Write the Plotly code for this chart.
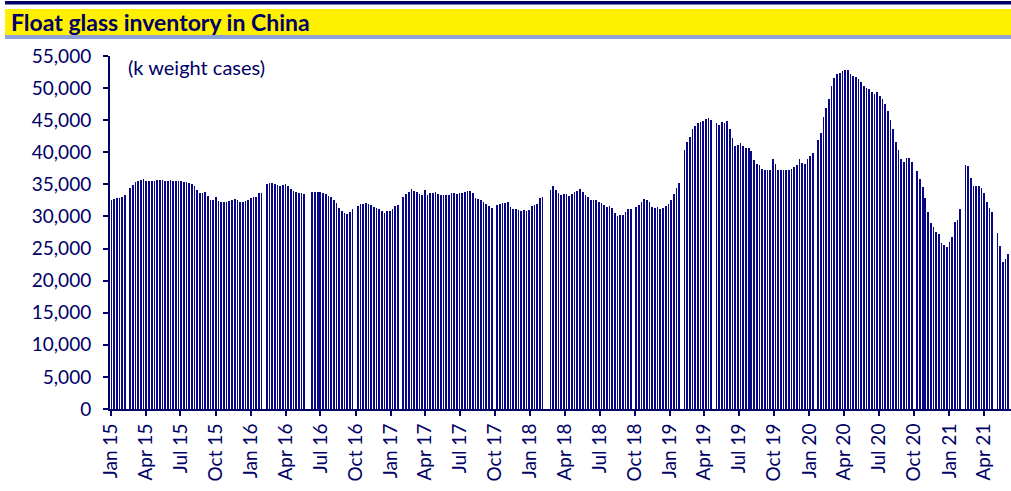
import pandas as pd
import plotly.graph_objects as go

# Weekly float glass inventory (k weight cases); None = no data that week
inventory = [
    32600, 32700, 32870, 32900, 33030, 33340, None, 34380, 34900, 35300,
    35570, 35730, 35780, 35570, 35570, 35570, 35570, 35620, 35680, 35620,
    35570, 35570, 35620, 35570, 35570, 35570, 35460, 35370, 35370, 35200,
    35050, 34690, 34120, 33650, 33700, 33860, 33240, 32560, 32560, 32980,
    32460, 32250, 32200, 32250, 32400, 32600, 32660, 32600, 32250, 32300,
    32400, 32560, 32820, 33080, 33080, 33650, 33650, None, 35000, 35260,
    35260, 35100, 34900, 34800, 34900, 35000, 34700, 34320, 33960, 33810,
    33650, 33600, 33500, None, None, 33810, 33810, 33810, 33760, 33600,
    33440, 33180, 32980, 32560, 32100, 31360, 30850, 30590, 30380, 30690,
    31160, None, 31630, 31940, 31940, 32100, 32000, 31790, 31420, 31320,
    31110, 30790, 30540, 30790, 30790, 31160, 31630, 31730, None, 32980,
    33500, 33760, 34230, 34020, 33760, 33500, 33390, 34070, 33290, 33600,
    33650, 33810, 33550, 33290, 33390, 33390, 33390, 33600, 33600, 33500,
    33600, 33650, 33810, 33910, 33910, 33700, 32930, 32750, 32510, 32250,
    31890, 31580, 31370, None, 31730, 31890, 32040, 32150, 32250, 31470,
    31110, 31110, 31060, 30790, 30950, 30900, 30950, 31630, 31730, 31940,
    32820, 32980, None, None, 34070, 34740, 34070, 33650, 33390, 33500,
    33440, 33240, 33500, 33760, 33960, 34230, 33860, 33290, 32980, 32560,
    32510, 32560, 32250, 32040, 31790, 31470, 31630, 31320, 30540, 30070,
    30230, 30230, 30690, 31110, 31160, None, 31520, 31790, 32300, 32720,
    32610, 32200, 31470, 31370, 31500, 31230, 31290, 31630, 31940, 32560,
    33440, 34480, 35160, None, 40350, 41650, 42430, 43620, 44140, 44610,
    44710, 44820, 45230, 45280, 45020, None, 44500, 44250, 44660, 44610,
    44820, 43570, 42170, 40970, 41130, 41390, 40970, 40710, 40610, 40190,
    38790, 38170, 37960, 37440, 37230, 37180, 37180, 38950, 38170, 37180,
    37230, 37230, 37230, 37230, 37440, 37750, 38010, 38900, 38330, 38170,
    39010, 39380, 39840, None, 41910, 43050, 45540, 46840, 48240, 50270,
    51510, 52190, 52350, 52690, 52820, 52870, 52190, 51930, 51670, 51360,
    50890, 50320, 50010, 49810, 49390, 49080, 49340, 48770, 48300, 47520,
    46480, 45020, 43570, 41650, 40350, 38950, 38480, 39110, 39160, 38480,
    None, 37080, 35880, 34590, 32930, 30750, 28940, 28360, 27630, 27270,
    25870, 25550, 25190, 26020, 26800, 29130, 29450, 31110, None, 38060,
    37910, 35940, 34740, 34740, 34690, 34430, 33600, 32300, 31320, 30750,
    None, 27420, 25400, 22900, 23320, 24100,
]
weeks = pd.date_range("2015-01-02", periods=len(inventory), freq="7D")

tick_dates = pd.date_range("2015-01-01", "2021-04-01", freq="QS")
tick_labels = [d.strftime("%b %y") for d in tick_dates]

title_text = "Float glass inventory in China"
unit_text = "(k weight cases)"

NAVY = "#000066"
W, H = 1011, 491
L, R, T, B = 110, 1011, 56, 409  # plot area in pixels


def px(x):
    return (x - L) / (R - L)


def py(y):
    return (B - y) / (B - T)


fig = go.Figure()
fig.add_trace(go.Bar(
    x=weeks, y=inventory,
    width=4.4 * 86400000,
    marker=dict(color="rgba(0,0,128,0.97)", line=dict(width=0)),
))

fig.update_layout(
    width=W, height=H,
    margin=dict(l=L, r=W - R, t=T, b=H - B, autoexpand=False),
    paper_bgcolor="white", plot_bgcolor="white",
    showlegend=False,
    bargap=0,
    font=dict(family="Lato", color=NAVY, size=19),
    xaxis=dict(
        type="date",
        range=["2014-12-29", "2021-06-11"],
        tickmode="array", tickvals=tick_dates, ticktext=tick_labels,
        tickangle=-90,
        ticks="outside", ticklen=5, tickwidth=2, tickcolor=NAVY,
        showline=True, linecolor=NAVY, linewidth=2,
        showgrid=False, zeroline=False,
        tickfont=dict(size=19, color=NAVY),
    ),
    yaxis=dict(
        range=[0, 55000],
        tickmode="linear", tick0=0, dtick=5000,
        tickformat=",",
        ticks="outside", ticklen=5, tickwidth=2, tickcolor=NAVY,
        ticklabelstandoff=8,
        showline=True, linecolor=NAVY, linewidth=2,
        showgrid=False, zeroline=False,
        tickfont=dict(size=19, color=NAVY),
    ),
    shapes=[
        dict(type="rect", xref="paper", yref="paper", x0=px(5), x1=px(1011),
             y0=py(4.5), y1=py(1), fillcolor=NAVY, line=dict(width=0)),
        dict(type="rect", xref="paper", yref="paper", x0=px(5), x1=px(1011),
             y0=py(35), y1=py(9), fillcolor="#FFF000", line=dict(width=0)),
        dict(type="rect", xref="paper", yref="paper", x0=px(5), x1=px(1011),
             y0=py(39), y1=py(35), fillcolor="#8DA1D6", line=dict(width=0)),
    ],
    annotations=[
        dict(text="<b>" + title_text + "</b>", xref="paper", yref="paper",
             x=px(9), y=py(22), xanchor="left", yanchor="middle",
             showarrow=False, font=dict(size=23, color=NAVY, family="Lato")),
        dict(text=unit_text, xref="paper", yref="paper",
             x=px(126), y=py(67), xanchor="left", yanchor="middle",
             showarrow=False, font=dict(size=20, color=NAVY, family="Lato")),
    ],
)

fig.write_html("out.html", config={"displayModeBar": False},
               post_script="document.body.style.margin='0px';")
